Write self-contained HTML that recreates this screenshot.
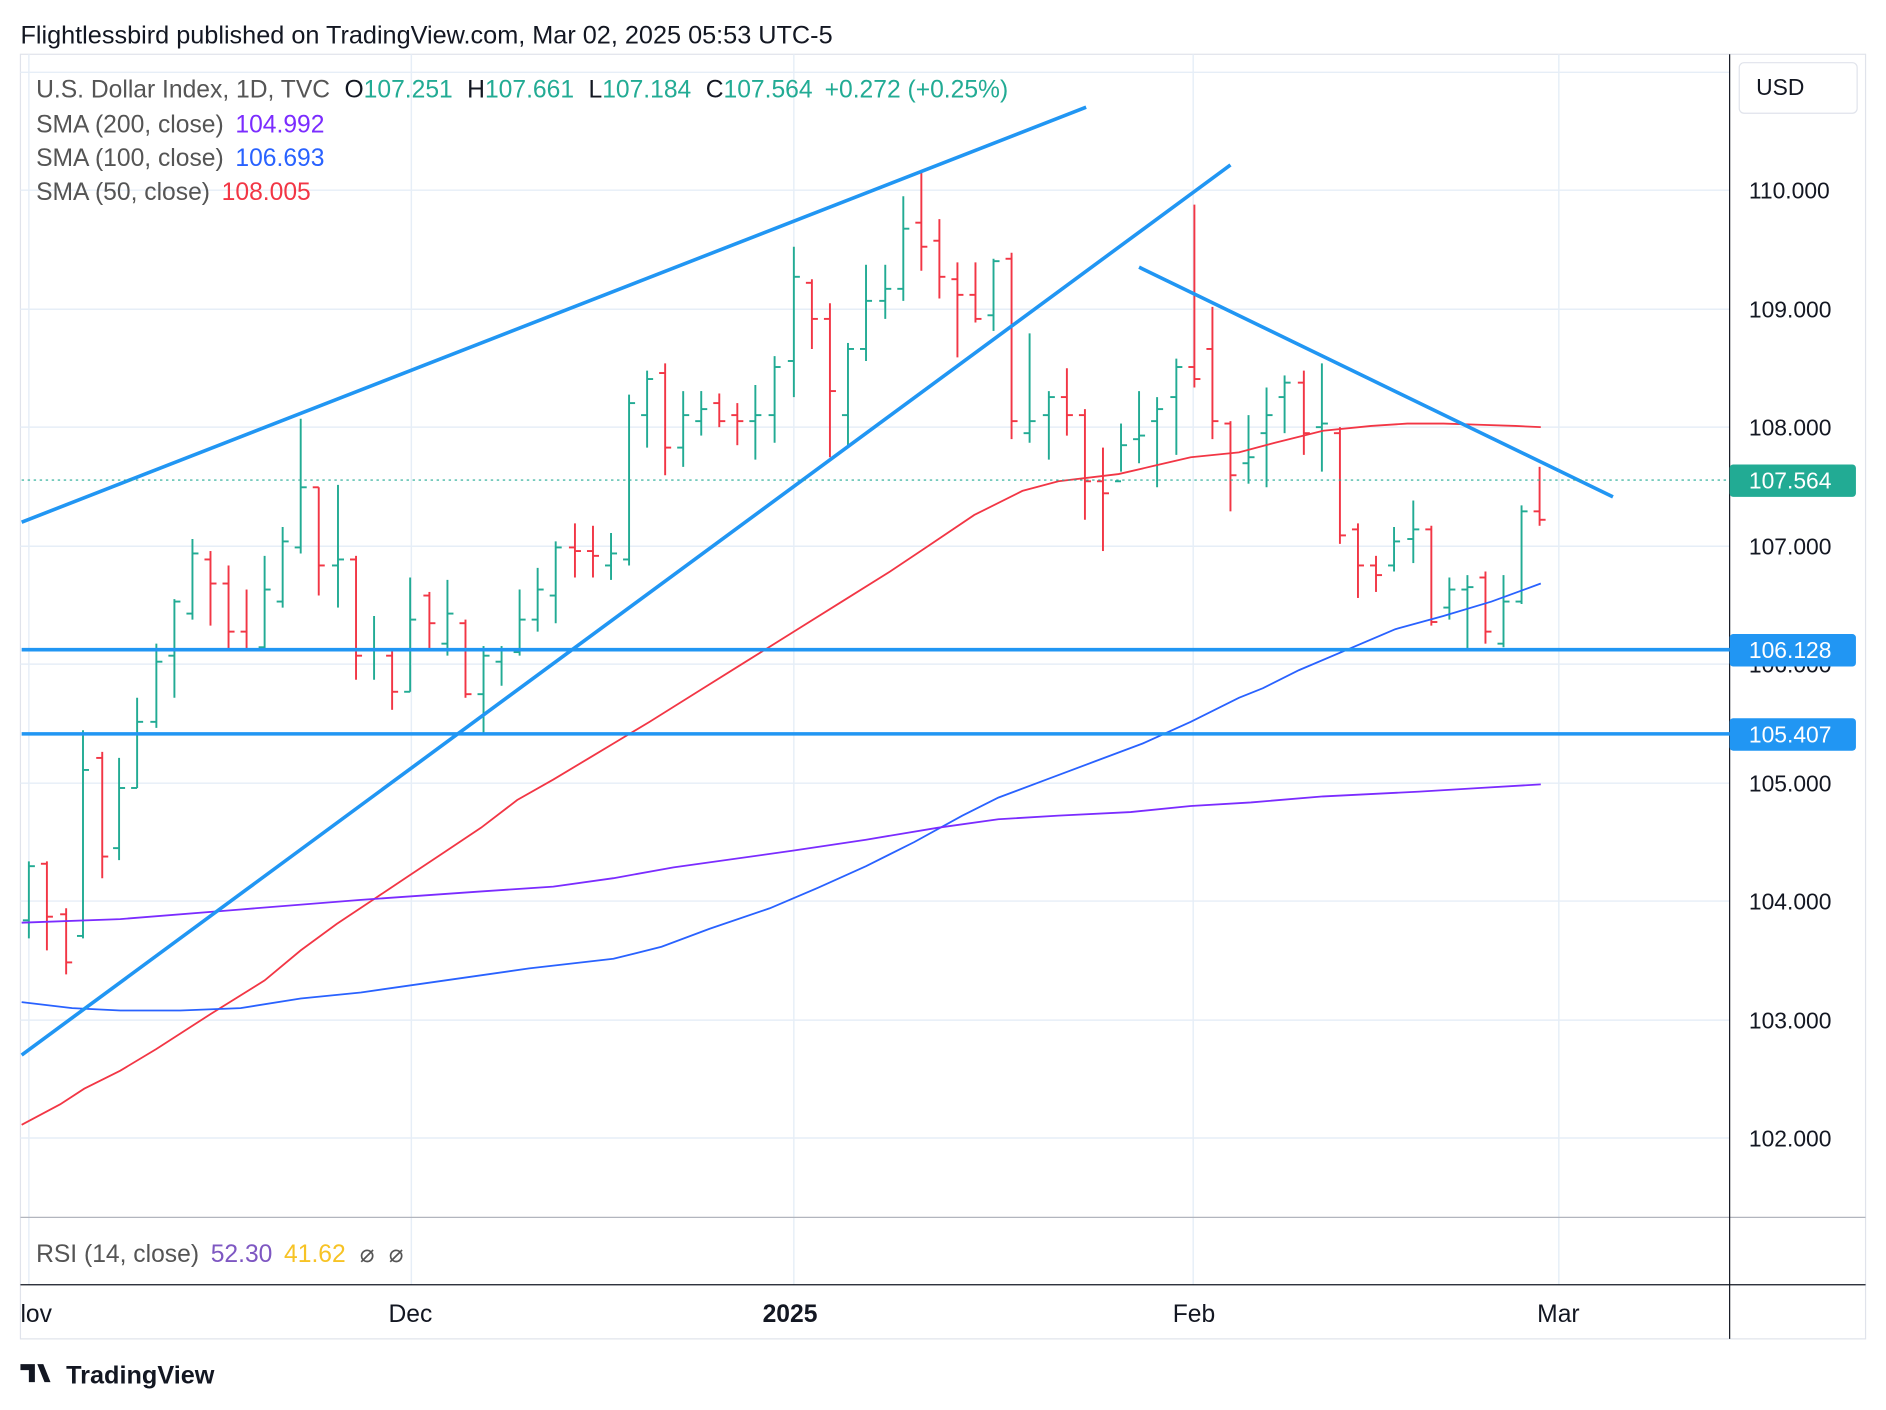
<!DOCTYPE html>
<html><head><meta charset="utf-8"><style>
html,body{margin:0;padding:0;background:#fff;}
svg{display:block;font-family:"Liberation Sans",sans-serif;}
</style></head><body>
<svg id="s" width="1886" height="1410" viewBox="0 0 1568 1172" xmlns="http://www.w3.org/2000/svg">
<rect width="1568" height="1172" fill="#fff"/>
<text x="17" y="36" font-size="21" fill="#131722">Flightlessbird published on TradingView.com, Mar 02, 2025 05:53 UTC-5</text>
<rect x="17" y="45" width="1534" height="1068" fill="none" stroke="#e0e3eb"/>
<g stroke="#e6eef7" stroke-width="1.2">
<line x1="24" y1="45" x2="24" y2="1068"/><line x1="342" y1="45" x2="342" y2="1068"/><line x1="660" y1="45" x2="660" y2="1068"/><line x1="992" y1="45" x2="992" y2="1068"/><line x1="1296" y1="45" x2="1296" y2="1068"/>
<line x1="17" y1="60" x2="1438" y2="60"/><line x1="17" y1="158" x2="1438" y2="158"/><line x1="17" y1="257" x2="1438" y2="257"/><line x1="17" y1="355" x2="1438" y2="355"/><line x1="17" y1="454" x2="1438" y2="454"/><line x1="17" y1="552" x2="1438" y2="552"/><line x1="17" y1="651" x2="1438" y2="651"/><line x1="17" y1="749" x2="1438" y2="749"/><line x1="17" y1="848" x2="1438" y2="848"/><line x1="17" y1="946" x2="1438" y2="946"/>
</g>
<line x1="17" y1="1012" x2="1551" y2="1012" stroke="#b2b5be"/>
<line x1="17" y1="1068" x2="1551" y2="1068" stroke="#131722"/>
<line x1="1438" y1="45" x2="1438" y2="1113" stroke="#131722"/>
<g id="bars"></g>
<polyline fill="none" stroke="#f23645" stroke-width="1.5" points="18,935 50,918 70,905 100,890 130,872 175,843 220,815 250,790 280,768 310,748 340,728 370,708 400,688 430,665 460,648 490,630 510,618 540,600 580,575 620,550 660,525 700,500 740,475 770,455 810,428 850,408 880,400 930,394 960,387 990,380 1030,376 1060,368 1100,358 1140,354 1170,352 1200,352 1230,353 1260,354 1281,355"/>
<polyline fill="none" stroke="#2962ff" stroke-width="1.5" points="18,833 60,838 100,840 150,840 200,838 250,830 300,825 370,815 440,805 510,797 550,787 590,772 640,755 680,738 720,720 760,700 800,678 830,663 870,648 910,633 950,618 990,600 1030,580 1050,572 1080,557 1120,540 1160,523 1200,512 1240,500 1281,485"/>
<polyline fill="none" stroke="#7b2cff" stroke-width="1.5" points="18,767 100,764 200,756 300,748 400,741 460,737 510,730 560,721 660,707 720,698 780,688 830,681 880,678 940,675 990,670 1040,667 1100,662 1180,658 1230,655 1281,652"/>
<g stroke="#2196f3" stroke-width="3">
<line x1="18" y1="434" x2="903" y2="89"/><line x1="18" y1="877" x2="1023" y2="137"/><line x1="947" y1="222" x2="1341" y2="413"/>
<line x1="18" y1="540" x2="1438" y2="540"/><line x1="18" y1="610" x2="1438" y2="610"/>
</g>
<line x1="18" y1="399" x2="1438" y2="399" stroke="#22ab94" stroke-dasharray="2,3"/>
<g font-size="19" fill="#131722">
<text x="1454" y="165">110.000</text><text x="1454" y="264">109.000</text><text x="1454" y="362">108.000</text><text x="1454" y="461">107.000</text><text x="1454" y="559">106.000</text><text x="1454" y="658">105.000</text><text x="1454" y="756">104.000</text><text x="1454" y="855">103.000</text><text x="1454" y="953">102.000</text>
</g>
<rect x="1438" y="386" width="105" height="27" rx="3" fill="#22ab94"/><text x="1454" y="406" font-size="19" fill="#fff">107.564</text>
<rect x="1438" y="527" width="105" height="27" rx="3" fill="#2196f3"/><text x="1454" y="547" font-size="19" fill="#fff">106.128</text>
<rect x="1438" y="597" width="105" height="27" rx="3" fill="#2196f3"/><text x="1454" y="617" font-size="19" fill="#fff">105.407</text>
<rect x="1446" y="52" width="98" height="42" rx="4" fill="#fff" stroke="#e0e3eb"/><text x="1460" y="79" font-size="19" fill="#131722">USD</text>
<g font-size="20.5">
<text x="30" y="81" fill="#555"><tspan>U.S. Dollar Index, 1D, TVC</tspan><tspan dx="12" fill="#131722">O</tspan><tspan fill="#22ab94">107.251</tspan><tspan dx="12" fill="#131722">H</tspan><tspan fill="#22ab94">107.661</tspan><tspan dx="12" fill="#131722">L</tspan><tspan fill="#22ab94">107.184</tspan><tspan dx="12" fill="#131722">C</tspan><tspan fill="#22ab94">107.564</tspan><tspan dx="10" fill="#22ab94">+0.272 (+0.25%)</tspan></text>
<text x="30" y="110" fill="#555">SMA (200, close) <tspan dx="4" fill="#7b2cff">104.992</tspan></text>
<text x="30" y="138" fill="#555">SMA (100, close) <tspan dx="4" fill="#2962ff">106.693</tspan></text>
<text x="30" y="166" fill="#555">SMA (50, close) <tspan dx="4" fill="#f23645">108.005</tspan></text>
<text x="30" y="1049" fill="#555">RSI (14, close) <tspan dx="4" fill="#7e57c2">52.30</tspan> <tspan dx="4" fill="#f7c325">41.62</tspan> <tspan dx="6">⌀</tspan> <tspan dx="6">⌀</tspan></text>
<text x="17" y="1099" fill="#131722">lov</text><text x="323" y="1099" fill="#131722">Dec</text><text x="634" y="1099" fill="#131722" font-weight="bold">2025</text><text x="975" y="1099" fill="#131722">Feb</text><text x="1278" y="1099" fill="#131722">Mar</text>
</g>
<path d="M17,1134h12v15h-5v-10h-7z M31,1134h5l6,15h-5z" fill="#131722"/>
<text x="55" y="1150" font-size="21" fill="#131722" font-weight="bold">TradingView</text>
</svg>
<script>
var d=[[24,716,780,765,720],[39,716,790,718,762],[55,755,810,760,800],[69,607,780,778,640],[85,625,730,630,712],[99,630,715,705,655],[114,580,655,655,600],[130,535,605,600,550],[145,498,580,545,500],[160,448,515,510,460],[175,458,520,465,485],[190,470,540,485,525],[205,490,540,525,540],[220,462,540,538,490],[235,438,505,500,450],[250,348,460,455,405],[265,405,495,405,470],[281,403,505,470,465],[296,462,565,465,545],[311,512,565,540,540],[326,540,590,545,575],[341,480,575,575,515],[357,492,540,495,518],[372,482,545,535,510],[387,515,580,518,577],[402,537,610,577,545],[417,537,570,550,540],[432,490,545,542,515],[447,472,525,515,490],[462,450,518,495,455],[478,435,480,455,458],[493,437,480,458,462],[508,443,482,470,460],[523,328,470,465,335],[538,308,372,345,315],[553,302,395,310,372],[568,325,388,372,345],[583,325,362,350,340],[598,327,355,335,350],[613,335,370,345,350],[628,320,382,350,345],[644,296,368,345,305],[660,205,330,300,230],[675,232,290,235,265],[690,252,380,265,325],[705,285,370,345,290],[720,220,300,290,250],[736,220,265,250,240],[751,163,250,240,190],[766,142,225,185,205],[781,182,248,200,230],[796,218,297,232,245],[811,218,268,245,265],[826,215,275,262,217],[841,210,365,215,350],[856,277,368,360,350],[872,325,382,345,330],[887,306,362,330,345],[902,340,432,345,400],[917,372,458,400,410],[932,352,392,400,370],[947,325,385,365,362],[962,330,405,350,340],[978,298,378,330,305],[993,170,322,305,315],[1008,255,365,290,350],[1023,350,425,352,395],[1038,345,402,385,380],[1053,322,405,360,345],[1068,312,360,330,318],[1084,308,378,318,360],[1099,302,392,355,352],[1114,355,452,360,445],[1129,435,497,440,470],[1144,462,492,470,478],[1159,438,475,470,450],[1175,416,468,448,440],[1190,437,520,440,517],[1205,480,515,505,490],[1220,478,540,490,488],[1235,475,535,480,525],[1250,478,538,535,500],[1265,420,502,500,425],[1280,388,437,425,432]];
var g=document.getElementById('bars'),h='';
d.forEach(function(b){var c=b[4]<=b[3]?'#22ab94':'#f23645';
h+='<g stroke="'+c+'" stroke-width="1.6"><line x1="'+b[0]+'" y1="'+b[1]+'" x2="'+b[0]+'" y2="'+b[2]+'"/><line x1="'+(b[0]-5)+'" y1="'+b[3]+'" x2="'+b[0]+'" y2="'+b[3]+'"/><line x1="'+b[0]+'" y1="'+b[4]+'" x2="'+(b[0]+5)+'" y2="'+b[4]+'"/></g>';});
g.innerHTML=h;
</script>
</body></html>
